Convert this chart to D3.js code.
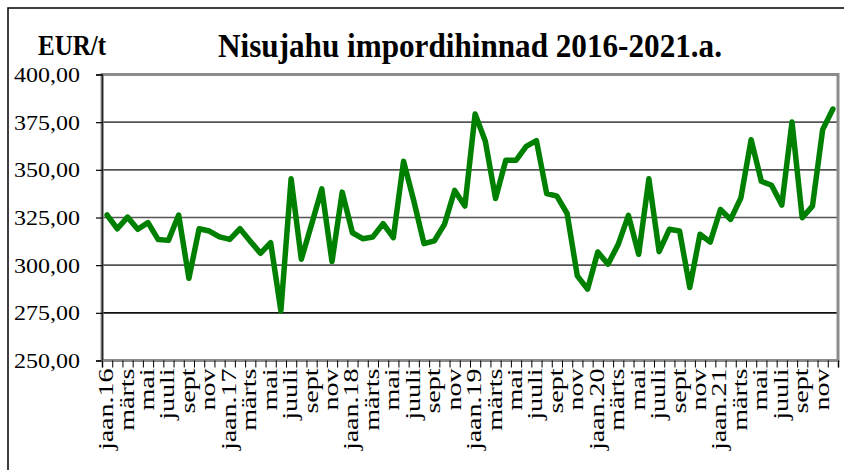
<!DOCTYPE html>
<html>
<head>
<meta charset="utf-8">
<script src="https://cdn.jsdelivr.net/npm/d3@7"></script>
<style>
  body { margin: 0; background: #fff; }
  svg { display: block; }
</style>
</head>
<body>
<div id="chart"></div>
<script>
// kuude nimed (iga teine kuu on teljel)
const monthLabels = ["jaan.16", "märts", "mai", "juuli", "sept", "nov",
  "jaan.17", "märts", "mai", "juuli", "sept", "nov",
  "jaan.18", "märts", "mai", "juuli", "sept", "nov",
  "jaan.19", "märts", "mai", "juuli", "sept", "nov",
  "jaan.20", "märts", "mai", "juuli", "sept", "nov",
  "jaan.21", "märts", "mai", "juuli", "sept", "nov"];

// hinnad EUR/t, jaan 2016 - dets 2021
const prices = [326.3, 319.1, 325.2, 318.8, 322.3, 313.4, 313.0, 326.3, 293.1, 319.1, 317.9, 314.8,
  313.5, 319.1, 312.6, 306.2, 311.8, 276.1, 345.3, 303.1, 321.4, 340.0, 301.9, 338.3,
  317.0, 313.9, 314.8, 321.8, 314.4, 354.5, 333.8, 311.3, 312.7, 321.4, 339.2, 331.0,
  379.3, 365.0, 335.0, 355.0, 355.0, 362.3, 365.3, 337.6, 336.2, 327.1, 294.4, 287.4,
  306.9, 300.5, 310.9, 326.1, 305.7, 345.3, 307.1, 318.8, 317.9, 288.3, 316.2, 312.1,
  329.2, 324.0, 335.3, 365.8, 344.0, 341.9, 331.5, 375.1, 324.9, 331.0, 371.1, 381.9];

const yTicks = [250, 275, 300, 325, 350, 375, 400];

const W = 844, H = 470;
const plotLeft = 102, plotRight = 838, plotTop = 74.5, plotBottom = 360.5;

const svg = d3.select("#chart").append("svg")
  .attr("width", W)
  .attr("height", H);

// välimine raam
svg.append("rect")
  .attr("x", 8).attr("y", 8)
  .attr("width", 900).attr("height", 600)
  .attr("fill", "none")
  .attr("stroke", "#000")
  .attr("stroke-width", 1.5);

const x = d3.scaleBand()
  .domain(d3.range(prices.length))
  .range([plotLeft, plotRight])
  .padding(0);

const xEdge = d3.scaleLinear()
  .domain([0, prices.length])
  .range([plotLeft, plotRight]);

const y = d3.scaleLinear()
  .domain([250, 400])
  .range([plotBottom, plotTop]);

// ruudustik
svg.append("g")
  .selectAll("line")
  .data(yTicks.filter(d => d > 250 && d < 400))
  .enter()
  .append("line")
  .attr("x1", plotLeft).attr("x2", plotRight)
  .attr("y1", d => y(d)).attr("y2", d => y(d))
  .attr("stroke", d => d === 275 ? "#111" : "#555")
  .attr("stroke-width", 1.6);

// joonise ala raam
svg.append("rect")
  .attr("x", plotLeft).attr("y", plotTop)
  .attr("width", plotRight - plotLeft).attr("height", plotBottom - plotTop)
  .attr("fill", "none")
  .attr("stroke", "#8c8c8c")
  .attr("stroke-width", 3);

// y-telg
const yAxis = svg.append("g")
  .attr("transform", `translate(${plotLeft},0)`)
  .call(d3.axisLeft(y)
    .tickValues(yTicks)
    .tickSize(6)
    .tickPadding(16)
    .tickFormat(d => d.toFixed(2).replace(".", ",")));
yAxis.select(".domain").attr("stroke", "#222").attr("stroke-width", 1.5);
yAxis.selectAll(".tick line").attr("stroke", "#000").attr("stroke-width", 1.2);
yAxis.selectAll("text")
  .attr("fill", "#000")
  .style("font-family", "'Liberation Serif', 'Times New Roman', serif")
  .style("font-size", "22px")
  .attr("textLength", 66)
  .attr("lengthAdjust", "spacingAndGlyphs");

// x-telg
const xAxis = svg.append("g")
  .attr("transform", `translate(0,${plotBottom})`)
  .call(d3.axisBottom(xEdge)
    .tickValues(d3.range(prices.length + 1))
    .tickSize(7)
    .tickFormat(""));
xAxis.select(".domain").attr("stroke", "#888").attr("stroke-width", 2);
xAxis.selectAll(".tick line").attr("stroke", "#000").attr("stroke-width", 1);

svg.append("g")
  .selectAll("text")
  .data(monthLabels)
  .enter()
  .append("text")
  .attr("transform", (d, i) => `translate(${x(i * 2) + x.bandwidth() / 2 + 6},${plotBottom + 8}) rotate(-90)`)
  .attr("text-anchor", "end")
  .style("font-family", "'Liberation Serif', 'Times New Roman', serif")
  .style("font-size", "20px")
  .text(d => d)
  .each(function () {
    const len = this.getComputedTextLength();
    d3.select(this).attr("textLength", len * 1.4).attr("lengthAdjust", "spacingAndGlyphs");
  });

// hinnajoon
const line = d3.line()
  .x((d, i) => x(i) + x.bandwidth() / 2)
  .y(d => y(d));

svg.append("path")
  .datum(prices)
  .attr("d", line)
  .attr("fill", "none")
  .attr("stroke", "#008000")
  .attr("stroke-width", 5.5)
  .attr("stroke-linejoin", "round")
  .attr("stroke-linecap", "round");

// pealkirjad
svg.append("text")
  .attr("x", 218).attr("y", 57)
  .style("font-family", "'Liberation Serif', 'Times New Roman', serif")
  .style("font-weight", "bold")
  .style("font-size", "34px")
  .attr("textLength", 504)
  .attr("lengthAdjust", "spacingAndGlyphs")
  .text("Nisujahu impordihinnad 2016-2021.a.");

svg.append("text")
  .attr("x", 38).attr("y", 55)
  .style("font-family", "'Liberation Serif', 'Times New Roman', serif")
  .style("font-weight", "bold")
  .style("font-size", "29px")
  .attr("textLength", 68)
  .attr("lengthAdjust", "spacingAndGlyphs")
  .text("EUR/t");
</script>
</body>
</html>
